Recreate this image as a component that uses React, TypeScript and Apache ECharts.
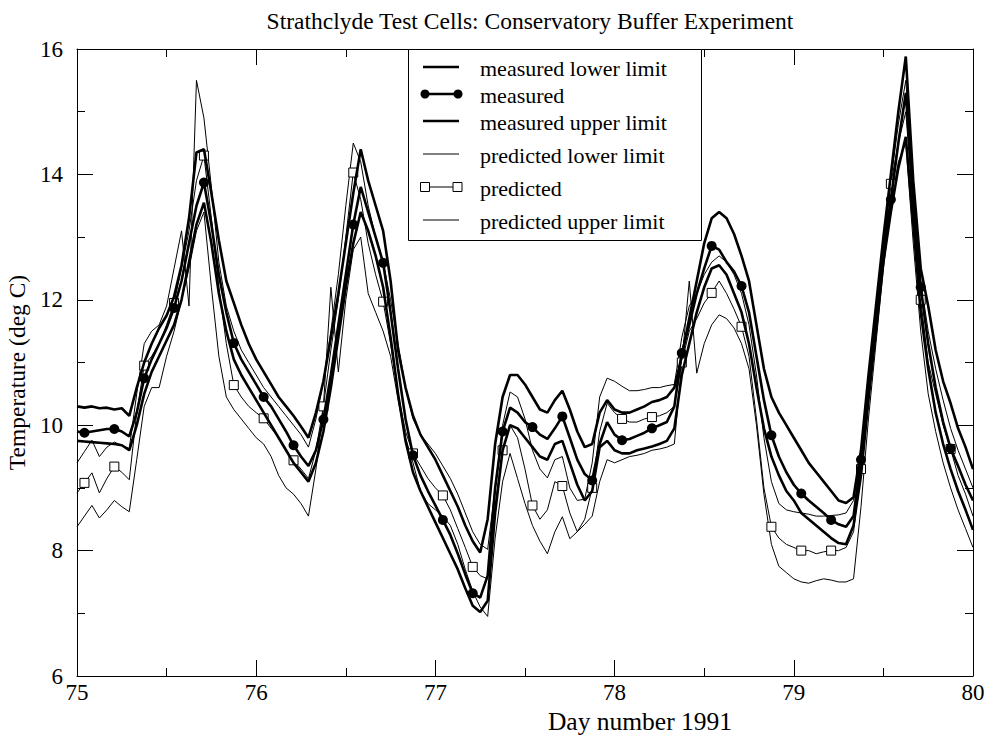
import React, { useEffect, useRef } from "react";
import * as echarts from "echarts";

// Hourly samples, day 75.0 .. 80.0 (hour offsets 0..120)
const hours: number[] = Array.from({ length: 121 }, (_, i) => i);

const measuredUpper = [
  10.30, 10.28, 10.30, 10.27, 10.28, 10.25, 10.27, 10.15,
  10.60, 11.00, 11.30, 11.55, 11.75, 12.05, 12.55, 13.30, 14.35, 14.40,
  13.70, 12.95, 12.30, 11.95, 11.60, 11.30, 11.05, 10.85, 10.65, 10.45, 10.30, 10.15, 9.98, 9.80,
  10.20, 10.70, 11.40, 12.10, 12.90, 13.70, 14.40,
  13.90, 13.50, 13.10, 12.30, 11.20, 10.60, 10.15, 9.85, 9.65, 9.45, 9.20, 8.95, 8.70, 8.40, 8.15, 7.97,
  8.50, 9.70, 10.45, 10.80, 10.80, 10.65, 10.45, 10.25, 10.20, 10.40, 10.55, 10.25, 9.90, 9.65, 9.70, 10.20, 10.40, 10.25,
  10.20, 10.20, 10.25, 10.30, 10.37, 10.40, 10.45, 10.60, 11.10, 11.70, 12.30, 12.90, 13.30, 13.40,
  13.30, 13.05, 12.70, 12.30, 11.60, 10.90, 10.45, 10.20, 10.00, 9.80, 9.60, 9.40, 9.25, 9.10, 8.95, 8.80, 8.76, 8.85,
  9.60, 10.80, 11.90, 13.00, 14.00, 15.00, 15.88, 13.90, 12.50, 11.90, 11.20, 10.70, 10.35, 9.95, 9.65, 9.30,
];

const measured = [
  9.90, 9.88, 9.90, 9.92, 9.94, 9.94, 9.90, 9.82,
  10.20, 10.75, 11.05, 11.30, 11.55, 11.87, 12.30, 12.90, 13.50, 13.87,
  13.20, 12.40, 11.80, 11.31, 11.05, 10.85, 10.65, 10.45, 10.30, 10.10, 9.90, 9.68, 9.50, 9.35,
  9.60, 10.09, 10.80, 11.60, 12.40, 13.20, 13.80,
  13.40, 13.00, 12.59, 11.80, 10.90, 10.10, 9.52, 9.20, 8.95, 8.72, 8.49, 8.25, 7.95, 7.62, 7.32, 7.25,
  7.60, 9.00, 9.90, 10.28, 10.20, 10.05, 9.97, 9.85, 9.78, 9.95, 10.14, 9.80, 9.45, 9.22, 9.12, 9.70, 10.05, 9.85,
  9.76, 9.78, 9.83, 9.88, 9.95, 10.00, 10.05, 10.30, 11.15, 11.60, 12.10, 12.50, 12.86, 12.80,
  12.60, 12.45, 12.22, 11.80, 11.10, 10.40, 9.84, 9.50, 9.25, 9.05, 8.91, 8.80, 8.70, 8.60, 8.49, 8.42, 8.38, 8.55,
  9.45, 10.60, 11.70, 12.80, 13.60, 14.50, 15.30, 13.60, 12.20, 11.30, 10.60, 10.05, 9.63, 9.35, 9.05, 8.80,
];

const measuredLower = [
  9.75, 9.74, 9.73, 9.72, 9.71, 9.70, 9.68, 9.60,
  10.00, 10.50, 10.85, 11.10, 11.35, 11.60, 12.00, 12.60, 13.20, 13.55,
  12.90, 12.10, 11.50, 11.05, 10.80, 10.60, 10.40, 10.20, 10.00, 9.80, 9.60, 9.40, 9.25, 9.10,
  9.40, 9.90, 10.60, 11.40, 12.20, 12.90, 13.40,
  13.10, 12.70, 12.20, 11.40, 10.50, 9.75, 9.25, 8.95, 8.70, 8.45, 8.20, 7.95, 7.70, 7.40, 7.12, 7.02,
  7.20, 8.60, 9.60, 10.00, 9.95, 9.80, 9.65, 9.50, 9.45, 9.70, 9.75, 9.40, 9.05, 8.80, 8.95, 9.65, 9.75, 9.60,
  9.55, 9.55, 9.60, 9.63, 9.66, 9.70, 9.75, 9.95, 10.80, 11.30, 11.80, 12.20, 12.50, 12.55,
  12.40, 12.10, 11.80, 11.30, 10.60, 9.95, 9.50, 9.20, 8.95, 8.80, 8.60, 8.50, 8.40, 8.30, 8.20, 8.12, 8.10, 8.40,
  9.20, 10.40, 11.50, 12.60, 13.40, 14.10, 14.60, 13.20, 11.80, 10.90, 10.20, 9.70, 9.30, 8.95, 8.65, 8.33,
];

const predictedUpper = [
  9.40, 9.58, 9.76, 9.50, 9.65, 9.73, 9.68, 9.63,
  10.50, 11.30, 11.50, 11.60, 11.90, 12.50, 13.10, 11.90, 15.50, 14.90,
  13.80, 12.60, 11.90, 11.50, 11.20, 11.00, 10.80, 10.60, 10.45, 10.30, 10.15, 10.00, 9.85, 9.65,
  10.10, 10.70, 11.50, 12.40, 13.50, 14.50, 14.20,
  13.50, 13.00, 12.60, 12.00, 11.30, 10.60, 10.10, 9.85, 9.70, 9.55, 9.35, 9.15, 8.90, 8.60, 8.30, 8.10,
  8.02, 9.00, 10.00, 10.53, 10.45, 10.10, 9.60, 9.30, 9.16, 9.45, 9.50, 9.00, 8.80, 8.82, 9.40, 10.45, 10.75, 10.70,
  10.62, 10.55, 10.55, 10.57, 10.60, 10.60, 10.63, 10.65, 11.40, 11.90, 12.10, 12.40, 12.60, 12.70,
  12.60, 12.40, 12.10, 11.60, 10.80, 9.80, 9.10, 8.75, 8.65, 8.62, 8.60, 8.58, 8.55, 8.55, 8.56, 8.57, 8.60, 8.80,
  9.60, 10.70, 11.80, 12.90, 13.90, 14.80, 15.50, 13.80, 12.30, 11.50, 10.90, 10.40, 9.95, 9.60, 9.30, 9.00,
];

const predicted = [
  8.92, 9.08, 9.24, 8.92, 9.15, 9.34, 9.25, 9.13,
  10.20, 10.95, 11.10, 11.30, 11.60, 11.95, 12.50, 13.10, 13.90, 14.30,
  13.30, 12.20, 11.30, 10.64, 10.45, 10.30, 10.20, 10.11, 9.95, 9.80, 9.60, 9.44, 9.30, 9.15,
  9.60, 10.30, 11.20, 12.00, 13.00, 14.03, 13.60,
  12.90, 12.40, 11.97, 11.30, 10.50, 9.90, 9.55, 9.35, 9.15, 9.00, 8.88, 8.65, 8.35, 8.05, 7.74, 7.60,
  7.55, 8.70, 9.60, 10.00, 9.80, 9.30, 8.72, 8.50, 8.65, 9.10, 9.03, 8.60, 8.30, 8.50, 9.00, 9.90, 10.35, 10.20,
  10.10, 10.05, 10.05, 10.10, 10.13, 10.15, 10.20, 10.30, 11.00, 11.50, 11.70, 11.95, 12.11, 12.30,
  12.10, 11.85, 11.57, 11.10, 10.10, 9.00, 8.38, 8.20, 8.10, 8.05, 8.00, 8.00, 7.95, 7.98, 8.00, 8.00, 8.05, 8.30,
  9.30, 10.50, 11.70, 12.80, 13.85, 14.50, 15.00, 13.40, 12.00, 11.00, 10.50, 10.00, 9.62, 9.20, 8.90, 8.55,
];

const predictedLower = [
  8.38, 8.55, 8.72, 8.52, 8.65, 8.80, 8.70, 8.62,
  9.45, 10.30, 10.60, 10.60, 11.10, 11.50, 12.00, 12.50, 13.10, 13.40,
  12.20, 11.10, 10.45, 10.25, 10.10, 9.95, 9.80, 9.70, 9.50, 9.20, 9.00, 8.90, 8.75, 8.55,
  9.30, 10.30, 12.20, 10.85, 12.00, 12.80, 13.00,
  12.10, 11.80, 11.50, 11.10, 10.40, 9.80, 9.40, 8.95, 8.75, 8.65, 8.55, 8.40, 8.10, 7.70, 7.35, 7.10,
  6.95, 8.20, 9.10, 9.55, 9.15, 8.75, 8.40, 8.15, 7.95, 8.30, 8.54, 8.19, 8.30, 8.42, 8.55, 9.10, 9.45, 9.40,
  9.45, 9.50, 9.52, 9.55, 9.60, 9.62, 9.65, 9.70, 11.00, 12.30, 10.83, 11.30, 11.60, 11.76,
  11.70, 11.55, 11.30, 10.90, 10.00, 8.90, 8.10, 7.75, 7.65, 7.55, 7.50, 7.48, 7.52, 7.55, 7.53, 7.50, 7.50, 7.55,
  8.70, 10.10, 11.30, 12.50, 13.50, 14.20, 14.50, 12.90, 11.50, 10.50, 9.90, 9.40, 9.00, 8.65, 8.35, 8.05,
];

const xTicks = { min: 75, max: 80, interval: 1 };
const yTicks = { min: 6, max: 16, interval: 2 };

const legendLabels = [
  "measured lower limit",
  "measured",
  "measured upper limit",
  "predicted lower limit",
  "predicted",
  "predicted upper limit",
];

const SERIF = "'Liberation Serif', 'DejaVu Serif', serif";

function toPairs(vals: number[]) {
  return hours.map((h, i) => [75 + h / 24, vals[i]]);
}

export default function App() {
  const ref = useRef<HTMLDivElement>(null);
  useEffect(() => {
    if (!ref.current) return;
    const chart = echarts.init(ref.current, undefined, { renderer: "svg" });

    const markerAt = (_v: any, p: any) => (p.dataIndex % 4 === 1 ? "circle" : "none");
    const squareAt = (_v: any, p: any) => (p.dataIndex % 4 === 1 ? "rect" : "none");

    const thick = { color: "#000", width: 2.6 };
    const thin = { color: "#000", width: 1 };

    const axisCommon = {
      type: "value",
      axisLine: { show: true, onZero: false, lineStyle: { color: "#000", width: 1 } },
      axisTick: { show: true, inside: true, length: 16, lineStyle: { color: "#000" } },
      minorTick: { show: true, splitNumber: 2, length: 8, lineStyle: { color: "#000" } },
      splitLine: { show: false },
      minorSplitLine: { show: false },
    };

    // legend drawn as graphic
    const lgX = 408, lgY = 49, lgW = 293, lgH = 191;
    const rowY = [67, 94, 121, 154, 187, 220];
    const lineX1 = 423, lineX2 = 459, textX = 480;
    const legendEls: any[] = [
      { type: "rect", shape: { x: lgX + 0.5, y: lgY + 0.5, width: lgW, height: lgH }, style: { fill: "#fff", stroke: "#000", lineWidth: 1 }, z: 100 },
    ];
    legendLabels.forEach((lab, i) => {
      const y = rowY[i];
      const w = i < 3 ? 2.6 : 1;
      legendEls.push({ type: "line", shape: { x1: lineX1, y1: y, x2: lineX2, y2: y }, style: { stroke: "#000", lineWidth: w }, z: 101 });
      if (i === 1) {
        legendEls.push({ type: "circle", shape: { cx: lineX1 + 2, cy: y, r: 4.5 }, style: { fill: "#000" }, z: 102 });
        legendEls.push({ type: "circle", shape: { cx: lineX2 - 1, cy: y, r: 4.5 }, style: { fill: "#000" }, z: 102 });
      }
      if (i === 4) {
        legendEls.push({ type: "rect", shape: { x: lineX1 - 2.5, y: y - 4.5, width: 9, height: 9 }, style: { fill: "#fff", stroke: "#000", lineWidth: 1 }, z: 102 });
        legendEls.push({ type: "rect", shape: { x: lineX2 - 6, y: y - 4.5, width: 9, height: 9 }, style: { fill: "#fff", stroke: "#000", lineWidth: 1 }, z: 102 });
      }
      legendEls.push({
        type: "text", x: textX, y: y + 1, z: 102,
        style: { text: lab, fill: "#000", font: `22px ${SERIF}`, textVerticalAlign: "middle", verticalAlign: "middle" },
      });
    });

    const option: any = {
      animation: false,
      backgroundColor: "#fff",
      title: {
        text: "Strathclyde Test Cells: Conservatory Buffer Experiment",
        left: 525,
        top: 4,
        textAlign: "center",
        textStyle: { fontFamily: SERIF, fontSize: 23.5, fontWeight: "normal", color: "#000" },
      },
      grid: { left: 77, right: 17, top: 49, bottom: 64, outerBoundsMode: "none", containLabel: false },
      xAxis: [
        {
          ...axisCommon,
          ...xTicks,
          position: "bottom",
          name: "Day number 1991",
          nameLocation: "middle",
          nameGap: 31,
          nameTextStyle: { fontFamily: SERIF, fontSize: 25.5, color: "#000", padding: [0, 0, 0, 230] },
          axisLabel: { color: "#000", fontFamily: SERIF, fontSize: 23, margin: 5 },
        },
        {
          ...axisCommon,
          ...xTicks,
          position: "top",
          axisLabel: { show: false },
        },
      ],
      yAxis: [
        {
          ...axisCommon,
          ...yTicks,
          position: "left",
          name: "Temperature (deg C)",
          nameLocation: "middle",
          nameGap: 45,
          nameRotate: 90,
          nameTextStyle: { fontFamily: SERIF, fontSize: 23.5, color: "#000", padding: [0, 20, 0, 0] },
          axisLabel: { color: "#000", fontFamily: SERIF, fontSize: 23, margin: 14 },
        },
        {
          ...axisCommon,
          ...yTicks,
          position: "right",
          axisLabel: { show: false },
        },
      ],
      series: [
        { name: "predicted lower limit", type: "line", data: toPairs(predictedLower), showSymbol: false, lineStyle: thin, itemStyle: { color: "#000" }, z: 2 },
        { name: "predicted upper limit", type: "line", data: toPairs(predictedUpper), showSymbol: false, lineStyle: thin, itemStyle: { color: "#000" }, z: 2 },
        {
          name: "predicted", type: "line", data: toPairs(predicted), showAllSymbol: true, symbol: squareAt, symbolSize: 9,
          lineStyle: thin, itemStyle: { color: "#fff", borderColor: "#000", borderWidth: 1 }, z: 3,
        },
        { name: "measured lower limit", type: "line", data: toPairs(measuredLower), showSymbol: false, lineStyle: thick, itemStyle: { color: "#000" }, z: 4 },
        { name: "measured upper limit", type: "line", data: toPairs(measuredUpper), showSymbol: false, lineStyle: thick, itemStyle: { color: "#000" }, z: 4 },
        {
          name: "measured", type: "line", data: toPairs(measured), showAllSymbol: true, symbol: markerAt, symbolSize: 10,
          lineStyle: thick, itemStyle: { color: "#000" }, z: 5,
        },
      ],
      graphic: legendEls,
    };
    chart.setOption(option);
    return () => chart.dispose();
  }, []);

  return <div ref={ref} style={{ position: "fixed", left: 0, top: 0, width: 990, height: 740 }} />;
}
